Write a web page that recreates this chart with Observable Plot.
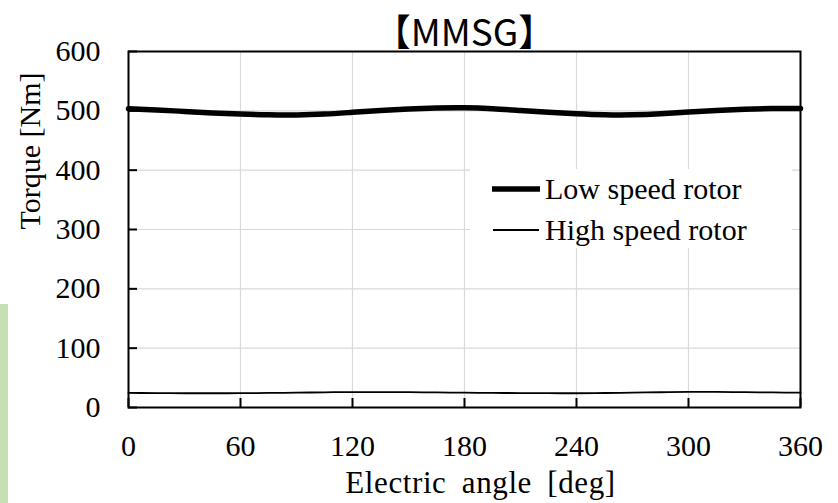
<!DOCTYPE html>
<html>
<head>
<meta charset="utf-8">
<script src="https://cdn.jsdelivr.net/npm/d3@7"></script>
<script src="https://cdn.jsdelivr.net/npm/@observablehq/plot@0.6"></script>
<style>
  html, body { margin: 0; padding: 0; background: #fff; }
  #wrap { position: relative; width: 838px; height: 503px; overflow: hidden; }
  #greenbar { position: absolute; left: 0; top: 304px; width: 8px; height: 199px; background: #c5e0b4; }
  #legend { position: absolute; left: 470px; top: 169px; width: 322px; height: 79px; background: #fff;
            font-family: "Liberation Serif", "Times New Roman", serif; font-size: 30px; color: #000; }
  .row { position: absolute; left: 0; height: 40px; display: flex; align-items: center; white-space: nowrap; }
  .row svg { display: block; margin-right: 5px; }
</style>
</head>
<body>
<div id="wrap">
  <div id="chart"></div>
  <div id="greenbar"></div>
  <div id="legend"></div>
</div>
<script>
const title = "【MMSG】";
const xLabel = "Electric angle [deg]";
const yLabel = "Torque [Nm]";
const xTicks = [0, 60, 120, 180, 240, 300, 360];
const yTicks = [0, 100, 200, 300, 400, 500, 600];

const seriesNames = ["Low speed rotor", "High speed rotor"];
const angle = [0, 15, 30, 45, 60, 75, 90, 105, 120, 135, 150, 165, 180,
               195, 210, 225, 240, 255, 270, 285, 300, 315, 330, 345, 360];
const lowSpeed = [503.5, 501.5, 499, 496.5, 494.5, 493.2, 493, 494.5, 497.5, 500.5, 503, 504.6, 505,
                  503.5, 500.5, 497.5, 495, 493.3, 493.2, 495, 498, 500.5, 502.5, 503.8, 504];
const highSpeed = [24.6, 24.2, 24, 24, 24.1, 24.5, 25, 25.6, 26, 26, 25.8, 25.4, 25,
                   24.6, 24.3, 24.1, 24, 24.4, 25, 25.7, 26.2, 26.2, 25.9, 25.4, 25];

const widths = [5.5, 1.8];
const data = [];
seriesNames.forEach((s, i) => {
  const vals = i === 0 ? lowSpeed : highSpeed;
  angle.forEach((a, j) => data.push({series: s, angle: a, torque: vals[j]}));
});

const W = 838, H = 503;
const mt = 51, mb = 96, ml = 128, mr = 38;
const fw = W - ml - mr, fh = H - mt - mb;
const tickLen = 9;
const serif = "'Liberation Serif', 'Times New Roman', serif";

const chart = Plot.plot({
  width: W, height: H,
  marginTop: mt, marginBottom: mb, marginLeft: ml, marginRight: mr,
  style: {fontFamily: serif, fontSize: "30px", color: "#000", background: "#fff"},
  x: {domain: [0, 360], ticks: xTicks},
  y: {domain: [0, 600], ticks: yTicks},
  marks: [
    Plot.gridX(xTicks, {stroke: "#d9d9d9", strokeOpacity: 1, strokeWidth: 1.2}),
    Plot.gridY(yTicks, {stroke: "#d9d9d9", strokeOpacity: 1, strokeWidth: 1.2}),
    Plot.axisX({ticks: xTicks, tickSize: 0, tickPadding: 27, label: null, fontSize: 30, fill: "#000"}),
    Plot.axisY({ticks: yTicks, tickSize: 0, tickPadding: 28, label: null, fontSize: 30, fill: "#000"}),
    Plot.tickX(xTicks, {x: d => d, stroke: "#000", strokeWidth: 2, insetTop: fh - tickLen}),
    Plot.tickY(yTicks, {y: d => d, stroke: "#000", strokeWidth: 2, insetRight: fw - tickLen}),
    Plot.line(data.filter(d => d.series === seriesNames[1]), {x: "angle", y: "torque", stroke: "#000", strokeWidth: widths[1], curve: "natural"}),
    Plot.line(data.filter(d => d.series === seriesNames[0]), {x: "angle", y: "torque", stroke: "#000", strokeWidth: widths[0], curve: "natural"}),
    Plot.frame({stroke: "#000", strokeWidth: 2}),
    Plot.text([yLabel], {text: d => d, frameAnchor: "left", rotate: -90, dx: -98, fontSize: 30, fill: "#000"}),
    Plot.text([xLabel], {text: d => d, frameAnchor: "bottom", dy: 85, dx: 16, fontSize: 31, fill: "#000",
                         className: "xlabel"}),
    Plot.text([title], {text: d => d, frameAnchor: "top", dy: -32, fontSize: 37, fill: "#000",
                        fontFamily: "'Noto Sans CJK JP', 'Noto Sans', sans-serif"})
  ]
});
chart.querySelectorAll('g[aria-label="x-axis tick label"] text, g[aria-label="y-axis tick label"] text').forEach(t => {
  t.style.fontFamily = serif;
});
chart.querySelectorAll('.xlabel text').forEach(t => {
  t.style.letterSpacing = "0.6px";
  t.style.wordSpacing = "7px";
});
document.getElementById("chart").appendChild(chart);

// legend
const legend = document.getElementById("legend");
seriesNames.forEach((s, i) => {
  const row = document.createElement("div");
  row.className = "row";
  row.style.left = "22px";
  row.style.top = (i === 0 ? 0 : 41) + "px";
  const ns = "http://www.w3.org/2000/svg";
  const svg = document.createElementNS(ns, "svg");
  svg.setAttribute("width", 48);
  svg.setAttribute("height", 12);
  const ln = document.createElementNS(ns, "line");
  ln.setAttribute("x1", 1); ln.setAttribute("x2", 47);
  ln.setAttribute("y1", 6); ln.setAttribute("y2", 6);
  ln.setAttribute("stroke", "#000");
  ln.setAttribute("stroke-width", widths[i]);
  ln.setAttribute("stroke-linecap", i === 0 ? "round" : "butt");
  svg.appendChild(ln);
  row.appendChild(svg);
  const t = document.createElement("span");
  t.textContent = s;
  row.appendChild(t);
  legend.appendChild(row);
});
</script>
</body>
</html>
